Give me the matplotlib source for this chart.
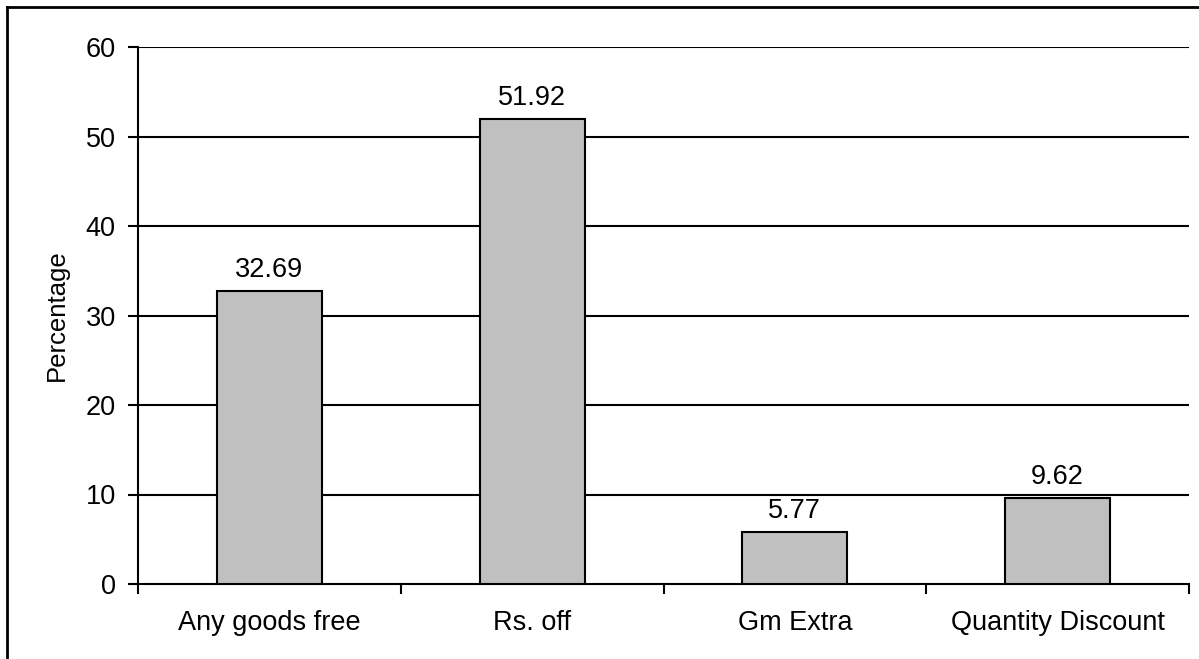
import matplotlib
matplotlib.use("Agg")
import matplotlib.pyplot as plt
from matplotlib.lines import Line2D
import numpy as np

categories = ["Any goods free", "Rs. off", "Gm Extra", "Quantity Discount"]
values = [32.69, 51.92, 5.77, 9.62]
labels = ["32.69", "51.92", "5.77", "9.62"]
yticks = [0, 10, 20, 30, 40, 50, 60]

plt.rcParams['font.family'] = ['Liberation Sans', 'DejaVu Sans']
FS = 19.5

fig = plt.figure(figsize=(11.99, 6.59), dpi=100)
W, H = 1199, 659
ax = fig.add_axes([138 / W, 1 - 584 / H, (1189 - 138) / W, (584 - 47) / H])

x = np.arange(len(categories))
ax.bar(x, values, width=0.4, color="#C0C0C0", edgecolor="black", linewidth=1.5, zorder=3)
for xi, v, lab in zip(x, values, labels):
    ax.annotate(lab, (xi, v), xytext=(0, 6), textcoords="offset points",
                ha="center", va="bottom", fontsize=FS)

ax.set_xlim(-0.5, len(categories) - 0.5)
ax.set_ylim(0, 60)
ax.set_yticks(yticks)
ax.set_yticklabels([str(t) for t in yticks], fontsize=FS)
for t in yticks[1:]:
    ax.axhline(t, color="black", linewidth=1.5, zorder=1)

ax.set_xticks(x)
ax.set_xticklabels(categories, fontsize=FS)
ax.set_xticks(np.arange(len(categories) + 1) - 0.5, minor=True)
ax.tick_params(axis="x", which="major", length=0, pad=19)
ax.tick_params(axis="x", which="minor", length=7, width=1.5, direction="out")
ax.tick_params(axis="y", length=7, width=1.5, direction="out", pad=9)

for s in ["top", "right"]:
    ax.spines[s].set_visible(False)
ax.spines["left"].set_linewidth(1.5)
ax.spines["bottom"].set_linewidth(1.5)

ax.set_ylabel("Percentage", fontsize=18.5, labelpad=12)

# figure border (top and left visible)
fig.add_artist(Line2D([7 / W, 7 / W], [0, 1 - 7 / H], transform=fig.transFigure, color="black", linewidth=2))
fig.add_artist(Line2D([7 / W, 1], [1 - 7 / H, 1 - 7 / H], transform=fig.transFigure, color="black", linewidth=2))

fig.savefig("out.png", dpi=100)
